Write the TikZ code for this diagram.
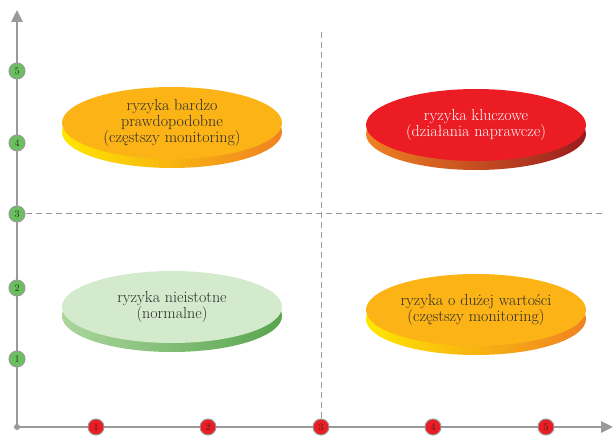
\documentclass[tikz,border=0pt]{standalone}
\usepackage{xcolor}
\usepackage{tikz}
\usetikzlibrary{shapes, arrows.meta, positioning}

\definecolor{axisgray}{HTML}{9A9A9A}
\definecolor{tickgreen}{HTML}{6ABF5E}
\definecolor{tickred}{HTML}{EC1C24}
\definecolor{amber}{HTML}{FBB316}
\definecolor{sideyellow}{HTML}{FFE600}
\definecolor{sideorange}{HTML}{F08122}
\definecolor{keyred}{HTML}{EC1C24}
\definecolor{sidedarkred}{HTML}{9A1B1E}
\definecolor{palegreen}{HTML}{D3EACC}
\definecolor{sidelightgreen}{HTML}{AAD69C}
\definecolor{sidegreen}{HTML}{58A54E}
\definecolor{textdark}{HTML}{2B2B2B}

\tikzset{
  axis/.style={draw=axisgray, line width=2.5pt, -{Triangle[length=12pt, width=11pt]}},
  guide/.style={draw=axisgray, line width=1pt, dash pattern=on 6pt off 4pt},
  ytick/.style={circle, fill=tickgreen, draw=axisgray, line width=1pt, minimum size=16pt,
                inner sep=0pt, text=textdark, font=\fontsize{10}{10}\selectfont},
  xtick/.style={ytick, fill=tickred},
  disc/.style={ellipse, minimum width=220pt, minimum height=72pt, inner sep=0pt,
               align=center, text=textdark, font=\fontsize{16}{16}\selectfont},
  disc side/.style 2 args={preaction={draw=none, left color=#1, right color=#2,
                                      transform canvas={yshift=-9pt}}}
}

\begin{document}
\begin{tikzpicture}[x=1pt, y=-1pt]
  \useasboundingbox (0,0) rectangle (616,443);

  % axes
  \node[circle, fill=axisgray, minimum size=6pt, inner sep=0pt] (o) at (17,427) {};
  \coordinate (ytop) at (17,10);
  \coordinate (xend) at (613,427);
  \draw[axis] (o.center) -- (ytop);
  \draw[axis] (o.center) -- (xend);

  % ticks
  \node[ytick] (y1) at (17,359) {1};
  \node[ytick] (y2) at (17,288) {2};
  \node[ytick] (y3) at (17,214) {3};
  \node[ytick] (y4) at (17,143) {4};
  \node[ytick] (y5) at (17,71)  {5};
  \node[xtick] (x1) at (96,427)  {1};
  \node[xtick] (x2) at (208,427) {2};
  \node[xtick] (x3) at (321,427) {3};
  \node[xtick] (x4) at (433,427) {4};
  \node[xtick] (x5) at (546,427) {5};

  % quadrant lines
  \coordinate (hend) at (604,214);
  \coordinate (vend) at (321,29);
  \draw[guide] (y3.east) -- (hend);
  \draw[guide] (x3.north) -- (vend);

  % risk discs
  \node[disc, fill=amber, disc side={sideyellow}{sideorange}]
    (likely) at (172,123) {ryzyka bardzo\\prawdopodobne\\(częstszy monitoring)};
  \node[disc, fill=keyred, text=white, disc side={sideorange}{sidedarkred}]
    (key) at (476,125) {ryzyka kluczowe\\(działania naprawcze)};
  \node[disc, fill=palegreen, disc side={sidelightgreen}{sidegreen}]
    (minor) at (172,307) {ryzyka nieistotne\\(normalne)};
  \node[disc, fill=amber, disc side={sideyellow}{sideorange}]
    (costly) at (476,310) {ryzyka o dużej wartości\\(częstszy monitoring)};
\end{tikzpicture}
\end{document}
